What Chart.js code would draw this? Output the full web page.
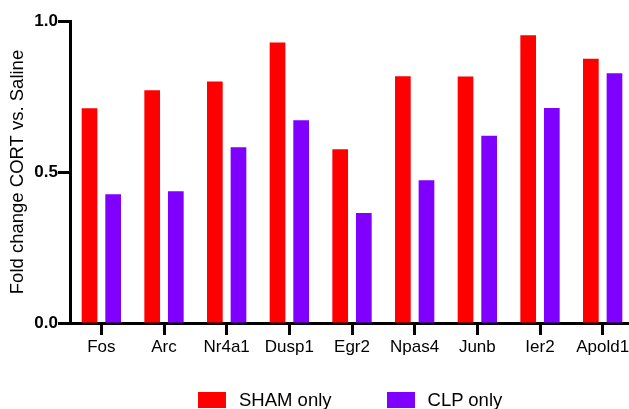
<!DOCTYPE html>
<html>
<head>
<meta charset="utf-8">
<script src="https://cdn.jsdelivr.net/npm/chart.js@4"></script>
<style>
  html, body { margin: 0; padding: 0; background: #fff; overflow: hidden; width: 629px; height: 409px; }
  #wrap { position: relative; width: 640px; height: 409px; }
  canvas { position: absolute; left: 0; top: 0; }
  #legend { position: absolute; left: 198px; top: 389px; display: flex; align-items: center; gap: 55px;
            font-family: "Liberation Sans", Arial, sans-serif; font-size: 18.5px; color: #000; }
  .item { display: flex; align-items: center; }
  .sw { width: 28px; height: 16px; margin-right: 13px; }
</style>
</head>
<body>
<div id="wrap">
  <canvas id="c" width="640" height="409"></canvas>
  <div id="legend"></div>
</div>
<script>
const categories = ["Fos", "Arc", "Nr4a1", "Dusp1", "Egr2", "Npas4", "Junb", "Ier2", "Apold1"];
const shamOnly = [0.711, 0.771, 0.800, 0.929, 0.575, 0.817, 0.816, 0.953, 0.875];
const clpOnly  = [0.426, 0.436, 0.582, 0.671, 0.364, 0.473, 0.620, 0.712, 0.827];
const seriesNames = ["SHAM only", "CLP only"];
const seriesColors = ["#FF0000", "#8000FF"];
const yTicks = [0.0, 0.5, 1.0];
const yTitle = "Fold change CORT vs. Saline";

const FONT = '"Liberation Sans", Arial, sans-serif';

const chart = new Chart(document.getElementById('c'), {
  type: 'bar',
  data: {
    labels: categories,
    datasets: [
      { label: seriesNames[0], data: shamOnly, backgroundColor: seriesColors[0] },
      { label: seriesNames[1], data: clpOnly, backgroundColor: seriesColors[1] }
    ]
  },
  options: {
    responsive: false,
    animation: false,
    devicePixelRatio: 1,
    categoryPercentage: 0.754,
    barPercentage: 0.664,
    layout: { padding: { top: 21, right: 6, left: 0, bottom: 0 } },
    plugins: { legend: { display: false }, tooltip: { enabled: false } },
    scales: {
      x: {
        grid: { display: true, drawOnChartArea: false, offset: false, tickLength: 12, tickWidth: 3, tickColor: '#000' },
        border: { display: true, color: '#000', width: 3 },
        ticks: { color: '#000', font: { family: FONT, size: 17 }, padding: 2, maxRotation: 0, autoSkip: false },
        afterFit: s => { s.height = 86; }
      },
      y: {
        min: 0, max: 1,
        afterBuildTicks: s => { s.ticks = yTicks.map(v => ({ value: v })); },
        grid: { display: true, drawOnChartArea: false, tickLength: 12, tickWidth: 3, tickColor: '#000' },
        border: { display: true, color: '#000', width: 3 },
        ticks: { color: '#000', font: { family: FONT, size: 17, weight: 'bold' }, padding: 0,
                 callback: v => Number(v).toFixed(1) },
        title: { display: true, text: yTitle, color: '#000', font: { family: FONT, size: 18.5 }, padding: { top: 7, bottom: 0 } },
        afterFit: s => { s.width = 70; }
      }
    }
  }
});

const legend = document.getElementById('legend');
chart.data.datasets.forEach(ds => {
  const it = document.createElement('div'); it.className = 'item';
  const sw = document.createElement('div'); sw.className = 'sw'; sw.style.background = ds.backgroundColor;
  const tx = document.createElement('span'); tx.textContent = ds.label;
  it.appendChild(sw); it.appendChild(tx); legend.appendChild(it);
});
</script>
</body>
</html>
